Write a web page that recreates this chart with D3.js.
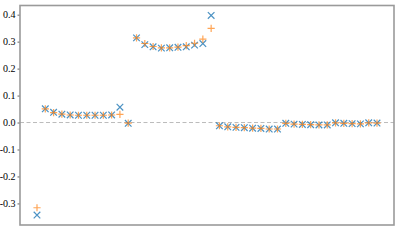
<!DOCTYPE html>
<html>
<head>
<meta charset="utf-8">
<script src="https://cdn.jsdelivr.net/npm/d3@7"></script>
<style>
  html, body { margin: 0; padding: 0; background: #fff; }
  svg { display: block; }
</style>
</head>
<body>
<svg id="chart" width="400" height="240"></svg>
<script>
// values, one per index 0..41
const seriesX = [
  -0.343, 0.051, 0.038, 0.031, 0.028, 0.027, 0.027, 0.027, 0.027, 0.028,
  0.057, -0.003, 0.314, 0.289, 0.281, 0.276, 0.277, 0.279, 0.281, 0.287,
  0.293, 0.397, -0.012, -0.016, -0.018, -0.019, -0.021, -0.022, -0.024, -0.024,
  -0.003, -0.006, -0.007, -0.008, -0.009, -0.009, -0.001, -0.003, -0.004, -0.005,
  -0.001, -0.002
];
const seriesPlus = [
  -0.316, 0.051, 0.037, 0.031, 0.028, 0.027, 0.027, 0.027, 0.027, 0.028,
  0.030, -0.002, 0.314, 0.293, 0.282, 0.277, 0.277, 0.280, 0.285, 0.294,
  0.309, 0.349, -0.012, -0.016, -0.018, -0.019, -0.021, -0.022, -0.024, -0.024,
  -0.003, -0.006, -0.007, -0.008, -0.009, -0.009, -0.001, -0.003, -0.004, -0.005,
  -0.001, -0.002
];
const yTicks = [-0.3, -0.2, -0.1, 0.0, 0.1, 0.2, 0.3, 0.4];

const width = 400, height = 240;
const margin = { top: 5.5, right: 6, bottom: 15, left: 20 };

const svg = d3.select('#chart');

const n = seriesX.length;
const allVals = seriesX.concat(seriesPlus);
const yMin = d3.min(allVals), yMax = d3.max(allVals);
const yPad = (yMax - yMin) * 0.05;
const xPad = (n - 1) * 0.05;

const x = d3.scaleLinear()
  .domain([-xPad, n - 1 + xPad])
  .range([margin.left, width - margin.right]);
const y = d3.scaleLinear()
  .domain([yMin - yPad, yMax + yPad])
  .range([height - margin.bottom, margin.top]);

// zero reference line
svg.append('line')
  .attr('x1', margin.left)
  .attr('x2', width - margin.right)
  .attr('y1', y(0))
  .attr('y2', y(0))
  .attr('stroke', '#bbb')
  .attr('stroke-width', 1)
  .attr('stroke-dasharray', '4,2.5');

// y axis
const yAxis = d3.axisLeft(y)
  .tickValues(yTicks)
  .tickSize(2.5)
  .tickPadding(2)
  .tickFormat(d => d3.format('.1f')(d).replace('−', '-'));

svg.append('g')
  .attr('transform', `translate(${margin.left},0)`)
  .call(yAxis)
  .attr('font-family', 'Liberation Serif')
  .attr('font-size', 10)
  .call(g => g.select('.domain').remove())
  .call(g => g.selectAll('.tick line').attr('stroke', '#666'))
  .call(g => g.selectAll('.tick text').attr('fill', '#000'));

// frame
svg.append('rect')
  .attr('x', margin.left)
  .attr('y', margin.top)
  .attr('width', width - margin.left - margin.right)
  .attr('height', height - margin.top - margin.bottom)
  .attr('fill', 'none')
  .attr('stroke', '#9a9a9a')
  .attr('stroke-width', 1.6);

const s = 3.3;

// blue x markers
svg.append('g')
  .selectAll('path')
  .data(seriesX)
  .join('path')
  .attr('d', (d, i) => {
    const cx = x(i), cy = y(d);
    return `M${cx - s},${cy - s}L${cx + s},${cy + s}M${cx - s},${cy + s}L${cx + s},${cy - s}`;
  })
  .attr('stroke', '#1f77b4')
  .attr('stroke-opacity', 0.8)
  .attr('stroke-width', 1.2)
  .attr('fill', 'none');

// orange plus markers
const p = 3.6;
svg.append('g')
  .selectAll('path')
  .data(seriesPlus)
  .join('path')
  .attr('d', (d, i) => {
    const cx = x(i), cy = y(d);
    return `M${cx - p},${cy}L${cx + p},${cy}M${cx},${cy - p}L${cx},${cy + p}`;
  })
  .attr('stroke', '#ff7f0e')
  .attr('stroke-opacity', 0.7)
  .attr('stroke-width', 1.2)
  .attr('fill', 'none');
</script>
</body>
</html>
